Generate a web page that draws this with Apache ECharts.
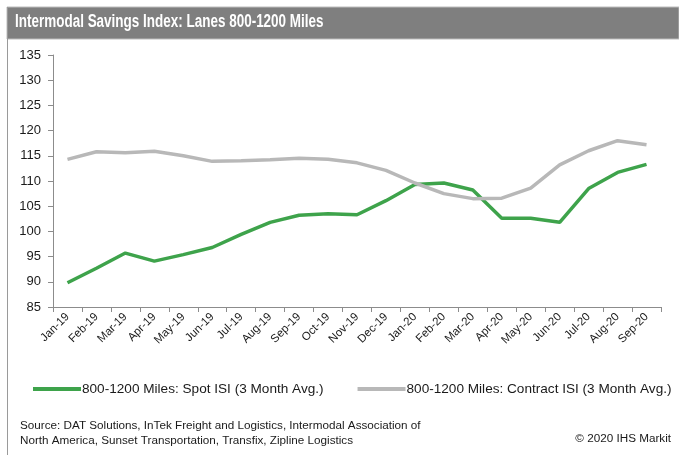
<!DOCTYPE html>
<html>
<head>
<meta charset="utf-8">
<script src="https://cdn.jsdelivr.net/npm/echarts@6/dist/echarts.min.js"></script>
<style>
  html, body { margin: 0; padding: 0; background: #fff; }
  #chart { width: 679px; height: 455px; }
</style>
</head>
<body>
<div id="chart"></div>
<script>
  const months = ['Jan-19', 'Feb-19', 'Mar-19', 'Apr-19', 'May-19', 'Jun-19', 'Jul-19', 'Aug-19', 'Sep-19',
    'Oct-19', 'Nov-19', 'Dec-19', 'Jan-20', 'Feb-20', 'Mar-20', 'Apr-20', 'May-20', 'Jun-20', 'Jul-20',
    'Aug-20', 'Sep-20'];
  const spotIsi = [89.8, 92.7, 95.7, 94.1, 95.4, 96.8, 99.4, 101.8, 103.2, 103.5, 103.3, 106.1, 109.3,
    109.6, 108.2, 102.6, 102.6, 101.8, 108.5, 111.7, 113.3];
  const contractIsi = [114.3, 115.8, 115.6, 115.9, 115.0, 113.9, 114.0, 114.2, 114.5, 114.3, 113.6, 112.1,
    109.6, 107.5, 106.5, 106.6, 108.6, 113.2, 116.0, 118.0, 117.2];
  const yTicks = { min: 85, max: 135, step: 5 };

  const chart = echarts.init(document.getElementById('chart'));
  const font = 'Liberation Sans, Arial, sans-serif';

  chart.setOption({
    animation: false,
    textStyle: { fontFamily: font },
    grid: { left: 53, right: 18, top: 55, bottom: 148, containLabel: false },
    legend: {
      left: 33,
      top: 382,
      width: 660,
      padding: 0,
      icon: 'rect',
      itemWidth: 48,
      itemHeight: 4,
      itemGap: 34,
      textStyle: { color: '#1a1a1a', fontSize: 13.6, padding: [0, 0, 0, -4] },
      data: ['800-1200 Miles: Spot ISI (3 Month Avg.)', '800-1200 Miles: Contract ISI (3 Month Avg.)']
    },
    xAxis: {
      type: 'category',
      data: months,
      boundaryGap: true,
      axisLine: { lineStyle: { color: '#8c8c8c', width: 1 } },
      axisTick: { show: true, length: 5, inside: false, lineStyle: { color: '#8c8c8c' } },
      axisLabel: { rotate: 45, margin: 8, color: '#1a1a1a', fontSize: 11.5, interval: 0 }
    },
    yAxis: {
      type: 'value',
      min: yTicks.min,
      max: yTicks.max,
      interval: yTicks.step,
      axisLine: { show: true, lineStyle: { color: '#8c8c8c', width: 1 } },
      axisTick: { show: true, length: 5, lineStyle: { color: '#8c8c8c' } },
      axisLabel: { margin: 12, color: '#1a1a1a', fontSize: 13 },
      splitLine: { show: false }
    },
    series: [
      {
        name: '800-1200 Miles: Spot ISI (3 Month Avg.)',
        type: 'line',
        data: spotIsi,
        showSymbol: false,
        symbol: 'none',
        lineStyle: { color: '#3ea34b', width: 3.5 },
        itemStyle: { color: '#3ea34b' }
      },
      {
        name: '800-1200 Miles: Contract ISI (3 Month Avg.)',
        type: 'line',
        data: contractIsi,
        showSymbol: false,
        symbol: 'none',
        lineStyle: { color: '#b8b8b8', width: 3.5 },
        itemStyle: { color: '#b8b8b8' }
      }
    ],
    graphic: [
      {
        type: 'rect',
        shape: { x: 7, y: 7, width: 672, height: 32 },
        style: { fill: '#7f7f7f', stroke: '#bdbdbd', lineWidth: 1 },
        z: 0
      },
      {
        type: 'line',
        shape: { x1: 7.5, y1: 7, x2: 7.5, y2: 455 },
        style: { stroke: '#9a9a9a', lineWidth: 1 }
      },
      {
        // title is a condensed face in the original, squeeze it horizontally
        type: 'text',
        x: 15,
        y: 13,
        scaleX: 0.77,
        style: {
          text: 'Intermodal Savings Index: Lanes 800-1200 Miles',
          fill: '#ffffff',
          font: 'bold 17.5px "Liberation Sans", Arial, sans-serif'
        }
      },
      {
        type: 'text',
        left: 20,
        top: 418,
        style: {
          text: 'Source: DAT Solutions, InTek Freight and Logistics, Intermodal Association of\nNorth America, Sunset Transportation, Transfix, Zipline Logistics',
          fill: '#1a1a1a',
          lineHeight: 15,
          font: '11.7px "Liberation Sans", Arial, sans-serif'
        }
      },
      {
        type: 'text',
        right: 8,
        top: 433,
        style: {
          text: '\u00a9 2020 IHS Markit',
          fill: '#1a1a1a',
          font: '11.7px "Liberation Sans", Arial, sans-serif'
        }
      }
    ]
  });
</script>
</body>
</html>
